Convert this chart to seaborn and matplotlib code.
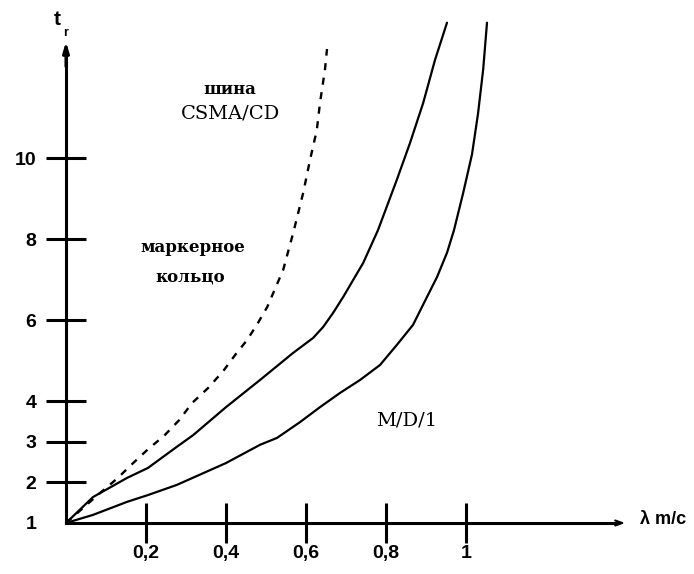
import matplotlib
matplotlib.use("Agg")
import matplotlib.pyplot as plt
import seaborn as sns
import pandas as pd

# ---- data ----
bus_x = [0, 0.085, 0.127, 0.168, 0.206, 0.245, 0.283, 0.315, 0.355, 0.393, 0.423,
         0.453, 0.48, 0.503, 0.543, 0.568, 0.593, 0.61, 0.627, 0.635, 0.6475, 0.6525]
bus_y = [1, 1.74, 2.09, 2.48, 2.83, 3.15, 3.54, 3.96, 4.33, 4.75, 5.15,
         5.52, 5.94, 6.33, 7.25, 8.16, 9.15, 9.96, 10.7, 11.37, 12.2, 12.7]

ring_x = [0, 0.0675, 0.152, 0.205, 0.277, 0.318, 0.40, 0.485, 0.568, 0.618, 0.643,
          0.668, 0.693, 0.718, 0.743, 0.78, 0.827, 0.86, 0.893, 0.9225, 0.9525]
ring_y = [1, 1.64, 2.11, 2.36, 2.88, 3.17, 3.86, 4.53, 5.2, 5.57, 5.84,
          6.19, 6.58, 7.0, 7.42, 8.23, 9.47, 10.38, 11.37, 12.43, 13.35]

md1_x = [0, 0.0675, 0.152, 0.205, 0.277, 0.40, 0.485, 0.5275, 0.585, 0.635, 0.685,
         0.735, 0.785, 0.8275, 0.8675, 0.9025, 0.9275, 0.9525, 0.97, 0.993, 1.015,
         1.03, 1.043, 1.0525]
md1_y = [1, 1.2, 1.52, 1.69, 1.94, 2.48, 2.93, 3.1, 3.49, 3.86, 4.21,
         4.53, 4.9, 5.4, 5.89, 6.58, 7.07, 7.67, 8.23, 9.15, 10.1,
         11.1, 12.2, 13.35]

x_ticks = [0.2, 0.4, 0.6, 0.8, 1]
x_tick_labels = ["0,2", "0,4", "0,6", "0,8", "1"]
y_ticks = [1, 2, 3, 4, 6, 8, 10]
y_tick_labels = ["1", "2", "3", "4", "6", "8", "10"]

sns.set_style("white")
plt.rcParams['font.family'] = ['Liberation Sans', 'DejaVu Sans']
plt.rcParams['text.color'] = 'black'

fig = plt.figure(figsize=(6.94, 5.74), dpi=100)
ax = fig.add_axes([0, 0, 1, 1])

df_bus = pd.DataFrame({"x": bus_x, "y": bus_y})
df_ring = pd.DataFrame({"x": ring_x, "y": ring_y})
df_md1 = pd.DataFrame({"x": md1_x, "y": md1_y})

sns.lineplot(data=df_bus, x="x", y="y", ax=ax, color="black", lw=1.7,
             linestyle=(0, (3, 3.2)), sort=False, estimator=None)
sns.lineplot(data=df_ring, x="x", y="y", ax=ax, color="black", lw=1.6,
             sort=False, estimator=None)
sns.lineplot(data=df_md1, x="x", y="y", ax=ax, color="black", lw=1.6,
             sort=False, estimator=None)

ax.set_xlim(-0.165, 1.57)
ax.set_ylim(-0.259, 13.91)
ax.set_xlabel("")
ax.set_ylabel("")

for s in ["top", "right"]:
    ax.spines[s].set_visible(False)
ax.spines["left"].set_position(("data", 0))
ax.spines["bottom"].set_position(("data", 1))
ax.spines["left"].set_bounds(1, 12.6)
ax.spines["bottom"].set_bounds(0, 1.38)
for s in ["left", "bottom"]:
    ax.spines[s].set_linewidth(2.2)
    ax.spines[s].set_color("black")

# arrow heads
ax.annotate("", xy=(0, 12.95), xytext=(0, 12.2),
            arrowprops=dict(arrowstyle="-|>,head_length=0.6,head_width=0.18",
                            color="black", lw=2.2))
ax.annotate("", xy=(1.405, 1), xytext=(1.36, 1),
            arrowprops=dict(arrowstyle="->,head_length=0.5,head_width=0.18",
                            color="black", lw=1.5))

ax.set_xticks(x_ticks)
ax.set_xticklabels(x_tick_labels)
ax.set_yticks(y_ticks)
ax.set_yticklabels(y_tick_labels)
ax.tick_params(axis="both", direction="inout", length=29, width=2.2,
               colors="black", labelsize=14, bottom=True, left=True)
ax.tick_params(axis="y", pad=7)
ax.tick_params(axis="x", pad=1)
for lab in ax.get_xticklabels() + ax.get_yticklabels():
    lab.set_fontweight("bold")
ax.yaxis.get_major_ticks()[0].tick1line.set_visible(False)
ax.grid(False)

serif = ['DejaVu Serif', 'Liberation Serif']
ax.text(0.41, 11.69, "шина", ha="center", va="center", fontsize=12,
        family=serif, fontweight="bold", color="black")
ax.text(0.41, 11.1, "CSMA/CD", ha="center", va="center", fontsize=14,
        family=serif, color="black")
ax.text(0.3175, 7.79, "маркерное", ha="center", va="center", fontsize=12,
        family=serif, fontweight="bold", color="black")
ax.text(0.31, 7.07, "кольцо", ha="center", va="center", fontsize=12,
        family=serif, fontweight="bold", color="black")
ax.text(0.8525, 3.54, "M/D/1", ha="center", va="center", fontsize=14,
        family=serif, color="black")
ax.text(1.435, 1.08, "λ m/c", ha="left", va="center", fontsize=13,
        fontweight="bold", color="black")
ax.text(-0.0225, 13.42, "t", ha="center", va="center", fontsize=15,
        fontweight="bold", color="black")
ax.text(-0.002, 13.1, "r", ha="center", va="center", fontsize=9,
        fontweight="bold", color="black")

fig.savefig("out.png", dpi=100)
